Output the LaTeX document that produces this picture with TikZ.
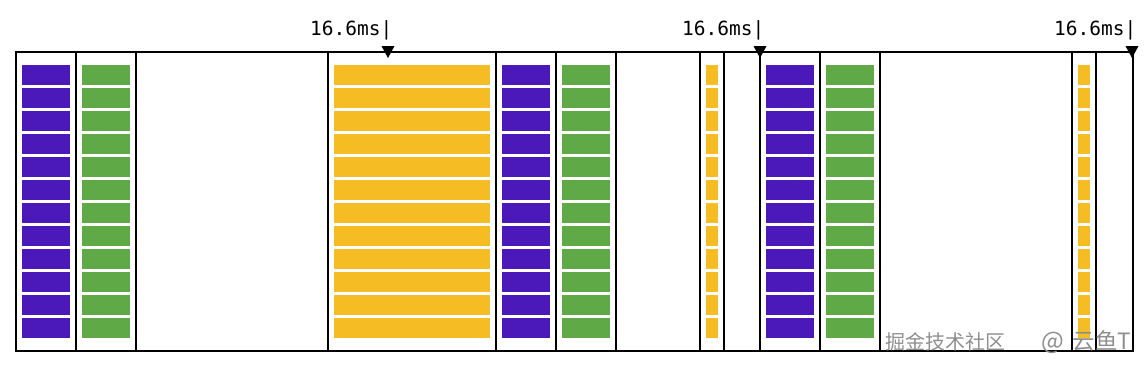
\documentclass[tikz,border=0pt]{standalone}
\usepackage{fontspec}
\newfontfamily\monofnt{DejaVu Sans Mono}
\newfontfamily\cjkfnt{Noto Sans CJK SC}
\definecolor{cpurple}{HTML}{4B19B9}
\definecolor{cgreen}{HTML}{60A947}
\definecolor{cyellow}{HTML}{F5BC24}
\definecolor{cwm}{HTML}{8E8E8E}
\tikzset{
  framebox/.style={draw=black, line width=2pt},
  divider/.style={draw=black, line width=1.4pt},
  marklabel/.style={inner sep=0pt, anchor=base east, font=\monofnt\fontsize{19.5}{19.5}\selectfont},
  tri/.style={fill=black},
  pbar/.style={fill=cpurple},
  gbar/.style={fill=cgreen},
  ybar/.style={fill=cyellow},
}
\begin{document}
\begin{tikzpicture}[x=1pt,y=-1pt]
\useasboundingbox (0,0) rectangle (1148,370);
% bars
\foreach \i in {0,...,11}{
  \pgfmathsetmacro{\yt}{65+23*\i}
  \pgfmathsetmacro{\yb}{\yt+20}
  \foreach \xa/\xb/\st in {22/70/pbar, 82/130/gbar, 334/490/ybar, 502/550/pbar, 562/610/gbar, 706/718/ybar, 766/814/pbar, 826/874/gbar, 1078/1090/ybar}{
    \path[\st] (\xa,\yt) rectangle (\xb,\yb);
  }
}
% dividers
\foreach \x in {76,136,328,496,556,616,700,724,760,820,880,1072,1096}{
  \path[divider] (\x,52) -- (\x,351);
}
% frame
\path[framebox] (16,52) rectangle (1133,351);
% markers
\foreach \x/\n in {388/l1, 760/l2, 1132/l3}{
  \node[marklabel] (\n) at (\x+4.5,35) {16.6ms|};
  \path[tri] (\x,58) -- (\x-6.5,46) -- (\x+6.5,46) -- cycle;
}
% watermark
\node[inner sep=0pt, anchor=south west, text=cwm, font=\cjkfnt\fontsize{20}{20}\selectfont] (wm) at (885,354) {掘金技术社区\hspace{36pt}{\fontsize{24}{24}\selectfont @}\hspace{9pt}{\fontsize{22.5}{22.5}\selectfont 云鱼T}};
\end{tikzpicture}
\end{document}
